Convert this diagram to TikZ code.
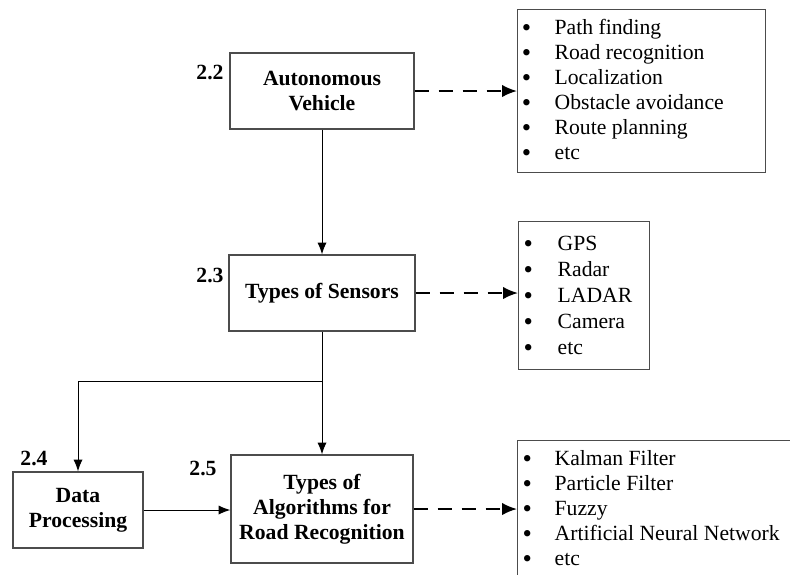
\documentclass[tikz,border=0pt]{standalone}
\usepackage{fontspec}
\setmainfont{Liberation Serif}
\usetikzlibrary{arrows.meta}
\tikzset{
  topic/.style={draw=black!70, line width=0.8pt, align=center, inner sep=0pt,
    font=\fontsize{13}{15}\selectfont\bfseries},
  secnum/.style={anchor=base, inner sep=0pt, font=\fontsize{13}{15}\selectfont\bfseries},
  listbox/.style={draw=black!70, line width=0.8pt, anchor=north west, inner sep=0pt,
    font=\fontsize{13}{15}\selectfont},
  flow/.style={line width=0.6pt, -{Latex[length=7pt,width=5.5pt]}},
  feed/.style={line width=1.2pt, dash pattern=on 8.4pt off 6pt, -{Latex[length=9pt,width=7.5pt]}}
}
\newcommand{\itemrow}[1]{\smash{\raisebox{-0.8pt}{\fontsize{16}{16}\selectfont\textbullet}} & #1\\}

\begin{document}
\begin{tikzpicture}[x=0.6pt,y=-0.6pt]
\useasboundingbox (0,0) rectangle (790,574);
\clip (0,0) rectangle (790,574);
\node [topic, minimum width=110.4pt, minimum height=45.6pt] (av) at (322,91) {Autonomous\\Vehicle};
\node [topic, minimum width=111.6pt, minimum height=45.6pt] (sens) at (322,293) {Types of Sensors};
\node [topic, minimum width=78pt, minimum height=45.6pt] (dp) at (78,510) {Data\\Processing};
\node [topic, minimum width=109.2pt, minimum height=64.8pt] (algo) at (322,509) {Types of\\Algorithms for\\Road Recognition};
\node [secnum] (n22) at (210,79) {2.2};
\node [secnum] (n23) at (210,282) {2.3};
\node [secnum] (n24) at (34,465) {2.4};
\node [secnum] (n25) at (203,475) {2.5};
\node [listbox, text height=15pt, text depth=82.8pt] (tasks) at (517,9) {%
  \begin{tabular}[t]{@{\hspace{2.5pt}}p{19.7pt}@{}p{126.6pt}@{}}
  \itemrow{Path finding}
  \itemrow{Road recognition}
  \itemrow{Localization}
  \itemrow{Obstacle avoidance}
  \itemrow{Route planning}
  \itemrow{etc}
  \end{tabular}};
\node [listbox, font=\fontsize{13}{15.6}\selectfont, text height=17.4pt, text depth=71.4pt] (sensors) at (518,221) {%
  \begin{tabular}[t]{@{\hspace{3pt}}p{20.4pt}@{}p{55.2pt}@{}}
  \itemrow{GPS}
  \itemrow{Radar}
  \itemrow{LADAR}
  \itemrow{Camera}
  \itemrow{etc}
  \end{tabular}};
\node [listbox, text height=15pt, text depth=75pt] (methods) at (517,440) {%
  \begin{tabular}[t]{@{\hspace{3pt}}p{19.2pt}@{}p{151.8pt}@{}}
  \itemrow{Kalman Filter}
  \itemrow{Particle Filter}
  \itemrow{Fuzzy}
  \itemrow{Artificial Neural Network}
  \itemrow{etc}
  \end{tabular}};
\coordinate (split) at (322,381);
\draw [flow] (av) -- (sens);
\draw [line width=0.6pt] (sens) -- (split);
\draw [flow] (split) -- (algo);
\draw [flow] (split) -| (dp);
\draw [flow] (dp.east) -- (dp.east -| algo.west);
\draw [feed] (av.east) -- (av.east -| tasks.west);
\draw [feed] (sens.east) -- (sens.east -| sensors.west);
\draw [feed] (algo.east) -- (algo.east -| methods.west);
\end{tikzpicture}
\end{document}
